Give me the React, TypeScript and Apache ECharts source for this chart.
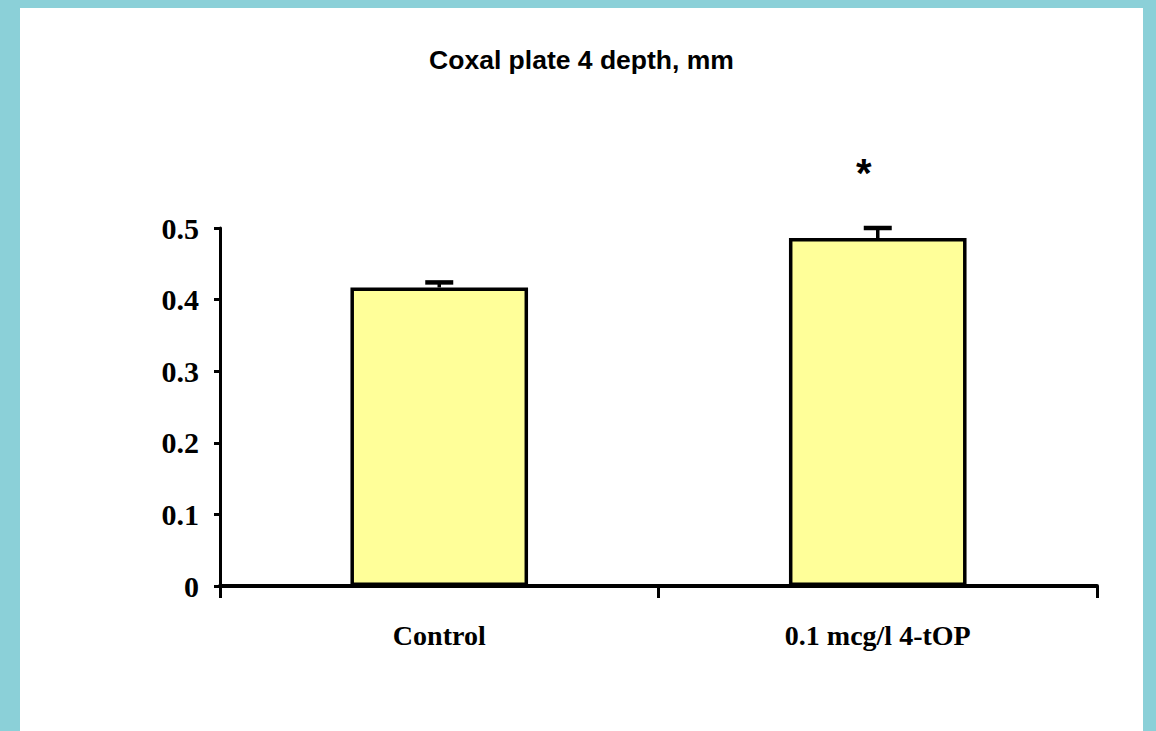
import React, { useEffect, useRef } from "react";
import * as echarts from "echarts";

// Coxal plate 4 depth (mm): group means with upper error whiskers
const categories = ["Control", "0.1 mcg/l 4-tOP"];
const meanDepth = [0.417, 0.486];
const errorTop = [0.424, 0.5];
const significance = ["", "*"];
const yTicks = [0, 0.1, 0.2, 0.3, 0.4, 0.5];

const serif = "'Liberation Serif', 'Times New Roman', serif";
const sans = "'Liberation Sans', Arial, sans-serif";

export default function App() {
  const ref = useRef<HTMLDivElement>(null);

  useEffect(() => {
    if (!ref.current) return;
    const chart = echarts.init(ref.current, undefined, { renderer: "svg" });

    const errData = categories.map((_, i) => [i, meanDepth[i], errorTop[i], significance[i]]);

    chart.setOption({
      animation: false,
      backgroundColor: "#ffffff",
      title: {
        text: "Coxal plate 4 depth, mm",
        left: "center",
        top: 33,
        textStyle: { fontFamily: sans, fontWeight: "bold", fontSize: 26.5, color: "#000" },
      },
      grid: { left: 200, right: 46, top: 220, bottom: 145 },
      xAxis: {
        type: "category",
        data: categories,
        boundaryGap: true,
        axisLine: { lineStyle: { color: "#000", width: 4 } },
        axisTick: { show: true, length: 12, lineStyle: { color: "#000", width: 3 } },
        axisLabel: {
          margin: 35,
          fontFamily: serif,
          fontWeight: "bold",
          fontSize: 28,
          color: "#000",
        },
        splitLine: { show: false },
      },
      yAxis: {
        type: "value",
        min: yTicks[0],
        max: yTicks[yTicks.length - 1],
        interval: 0.1,
        axisLine: { show: true, lineStyle: { color: "#000", width: 3 } },
        axisTick: { show: true, length: 6, lineStyle: { color: "#000", width: 3 } },
        axisLabel: {
          margin: 21,
          fontFamily: serif,
          fontWeight: "bold",
          fontSize: 30,
          color: "#000",
          formatter: (v: number) => (v === 0 ? "0" : v.toFixed(1)),
        },
        splitLine: { show: false },
      },
      series: [
        {
          type: "bar",
          data: meanDepth,
          barWidth: "40.5%",
          itemStyle: { color: "#ffff99", borderColor: "#000", borderWidth: 3.5 },
          z: 2,
        },
        {
          type: "custom",
          data: errData,
          clip: false,
          z: 3,
          renderItem: (params: any, api: any) => {
            const i = api.value(0);
            const base = api.coord([i, api.value(1)]);
            const top = api.coord([i, api.value(2)]);
            const mark = significance[params.dataIndex];
            const half = 14;
            const children: any[] = [
              {
                type: "line",
                shape: { x1: base[0], y1: base[1], x2: top[0], y2: top[1] },
                style: { stroke: "#000", lineWidth: 3.5 },
              },
              {
                type: "line",
                shape: { x1: top[0] - half, y1: top[1], x2: top[0] + half, y2: top[1] },
                style: { stroke: "#000", lineWidth: 4.5 },
              },
            ];
            if (mark) {
              children.push({
                type: "text",
                x: top[0] - 14,
                y: top[1] - 55,
                style: {
                  text: mark,
                  fontFamily: sans,
                  fontWeight: "bold",
                  fontSize: 40,
                  fill: "#000",
                  align: "center",
                  verticalAlign: "middle",
                },
              });
            }
            return { type: "group", children };
          },
        },
      ],
    });

    return () => chart.dispose();
  }, []);

  return (
    <div
      style={{
        position: "fixed",
        left: 0,
        top: 0,
        width: 1156,
        height: 731,
        background: "#8bd0d8",
      }}
    >
      <div
        ref={ref}
        style={{ position: "absolute", left: 20, top: 8, width: 1123, height: 723, background: "#fff" }}
      />
    </div>
  );
}
